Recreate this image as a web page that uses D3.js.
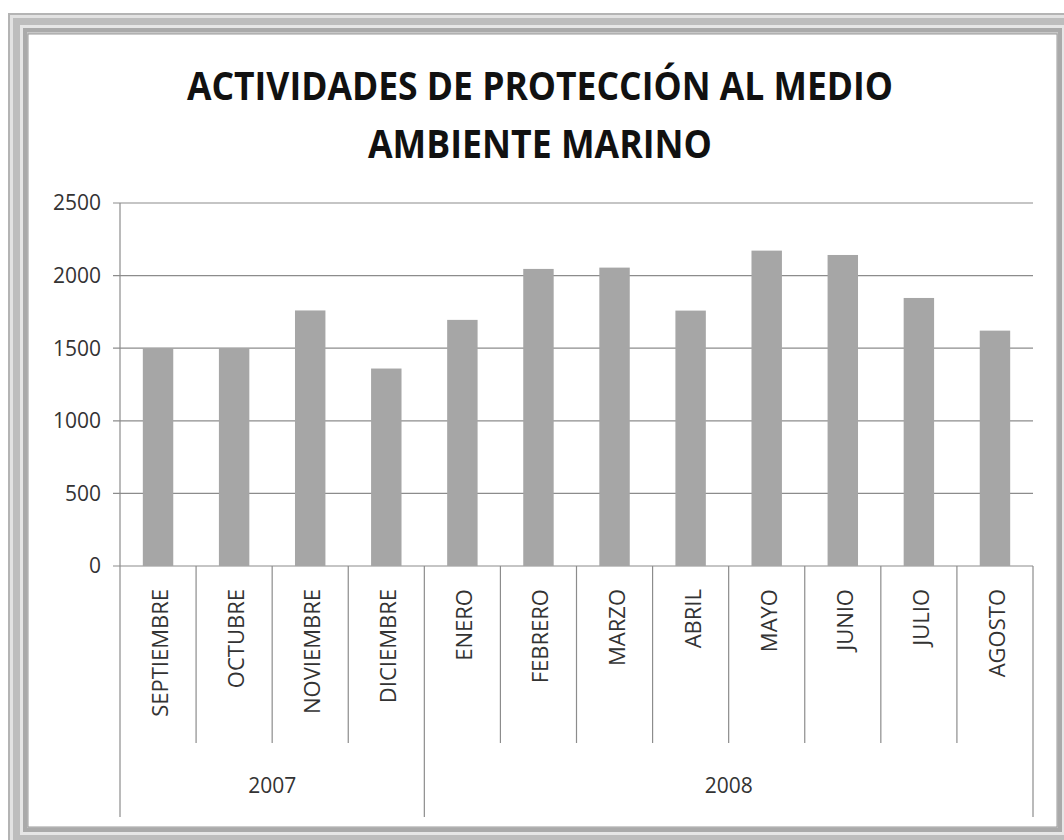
<!DOCTYPE html>
<html>
<head>
    <meta charset="UTF-8">
    <title>Actividades de protección al medio ambiente marino</title>
    <script src="https://d3js.org/d3.v7.min.js"></script>
    <style>
        body {
            margin: 0;
            background: #fff;
            font-family: "Open Sans", Arial, sans-serif;
        }

        .grid line {
            stroke: #8c8c8c;
            stroke-width: 1.2px;
        }

        .tick-label {
            font-size: 21px;
            fill: #333;
        }

        .cat-label {
            font-size: 22px;
            fill: #333;
        }

        .title {
            font-size: 40px;
            font-weight: 700;
            fill: #111;
        }
    </style>
</head>
<body>
    <div id="chart"></div>

    <script>
        const months = ["SEPTIEMBRE", "OCTUBRE", "NOVIEMBRE", "DICIEMBRE", "ENERO", "FEBRERO",
                        "MARZO", "ABRIL", "MAYO", "JUNIO", "JULIO", "AGOSTO"];
        const values = [1500, 1500, 1760, 1360, 1695, 2046, 2055, 1759, 2172, 2142, 1846, 1621];
        const years = ["2007", "2008"];
        const monthsPerYear = [4, 8];
        const yTicks = [0, 500, 1000, 1500, 2000, 2500];
        const titleLines = ["ACTIVIDADES DE PROTECCIÓN AL MEDIO", "AMBIENTE MARINO"];

        const width = 1064;
        const height = 840;

        const svg = d3.select("#chart")
            .append("svg")
            .attr("width", width)
            .attr("height", height);

        // picture frame (grey bevelled border)
        const frame = [
            [0, "#b4b4b4"], [2, "#e2e2e2"], [5, "#bdbdbd"],
            [12, "#e6e6e6"], [15, "#aaaaaa"], [19, "#c8c8c8"]
        ];
        frame.forEach(([k, c]) => {
            svg.append("rect")
                .attr("x", 8 + k).attr("y", 13 + k)
                .attr("width", 1069 - 2 * k).attr("height", 834 - 2 * k)
                .attr("fill", c);
        });
        svg.append("rect")
            .attr("x", 28).attr("y", 34)
            .attr("width", 1029).attr("height", 793)
            .attr("fill", "#fff")
            .attr("stroke", "#9a9a9a")
            .attr("stroke-width", 1);

        // title
        svg.selectAll("text.title")
            .data(titleLines)
            .join("text")
            .attr("class", "title")
            .attr("x", 540)
            .attr("y", (d, i) => 100 + i * 58)
            .attr("text-anchor", "middle")
            .attr("textLength", (d, i) => i === 0 ? 706 : 344)
            .attr("lengthAdjust", "spacingAndGlyphs")
            .text(d => d);

        const plotLeft = 120, plotRight = 1033, plotTop = 203, plotBottom = 566;

        const y = d3.scaleLinear().domain([0, 2500]).range([plotBottom, plotTop]);
        const x = d3.scaleBand()
            .domain(months)
            .range([plotLeft, plotRight])
            .paddingInner(0.6)
            .paddingOuter(0.3);
        const step = x.step();

        // gridlines + y ticks
        const grid = svg.append("g").attr("class", "grid");
        grid.selectAll("line")
            .data(yTicks)
            .join("line")
            .attr("x1", plotLeft - 7)
            .attr("x2", plotRight)
            .attr("y1", d => y(d))
            .attr("y2", d => y(d));

        svg.selectAll("text.ylab")
            .data(yTicks)
            .join("text")
            .attr("class", "tick-label ylab")
            .attr("x", plotLeft - 19)
            .attr("y", d => y(d))
            .attr("dy", "0.35em")
            .attr("text-anchor", "end")
            .text(d => d);

        // bars
        svg.selectAll("rect.bar")
            .data(months)
            .join("rect")
            .attr("class", "bar")
            .attr("x", d => x(d))
            .attr("width", x.bandwidth())
            .attr("y", (d, i) => y(values[i]))
            .attr("height", (d, i) => y(0) - y(values[i]))
            .attr("fill", "#a6a6a6");

        // y axis line
        svg.append("line")
            .attr("x1", plotLeft).attr("x2", plotLeft)
            .attr("y1", plotTop).attr("y2", plotBottom)
            .attr("stroke", "#8c8c8c").attr("stroke-width", 1.2);

        // category separators (multi-level axis)
        let yearBounds = [0];
        monthsPerYear.forEach(n => yearBounds.push(yearBounds[yearBounds.length - 1] + n));
        const seps = d3.range(months.length + 1);
        svg.selectAll("line.sep")
            .data(seps)
            .join("line")
            .attr("class", "sep")
            .attr("x1", i => plotLeft + i * step)
            .attr("x2", i => plotLeft + i * step)
            .attr("y1", plotBottom)
            .attr("y2", i => yearBounds.includes(i) ? 817 : 743)
            .attr("stroke", "#8c8c8c")
            .attr("stroke-width", 1.2);

        // month labels (rotated)
        svg.selectAll("text.month")
            .data(months)
            .join("text")
            .attr("class", "cat-label month")
            .attr("text-anchor", "end")
            .attr("transform", d => `translate(${x(d) + x.bandwidth() / 2 + 10},589) rotate(-90)`)
            .text(d => d);

        // year labels
        svg.selectAll("text.year")
            .data(years)
            .join("text")
            .attr("class", "tick-label year")
            .attr("x", (d, i) => plotLeft + (yearBounds[i] + yearBounds[i + 1]) / 2 * step)
            .attr("y", 793)
            .attr("text-anchor", "middle")
            .text(d => d);
    </script>
</body>
</html>
